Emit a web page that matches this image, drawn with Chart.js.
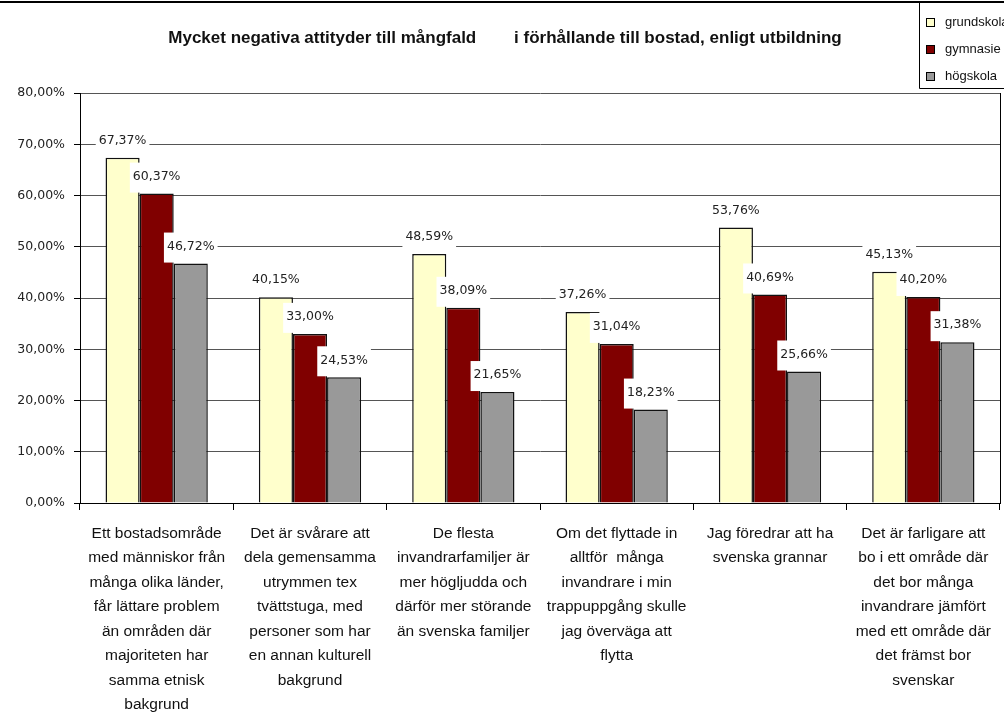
<!DOCTYPE html>
<html>
<head>
<meta charset="utf-8">
<script src="https://cdn.jsdelivr.net/npm/chart.js@4/dist/chart.umd.min.js"></script>
<style>
html,body{margin:0;padding:0;background:#fff;}
#wrap{width:1004px;height:727px;position:relative;}
</style>
</head>
<body>
<div id="wrap"><canvas id="c" width="1004" height="727"></canvas></div>
<script>
const chartTitle = "Mycket negativa attityder till mångfald        i förhållande till bostad, enligt utbildning";
const categories = [
  ["Ett bostadsområde","med människor från","många olika länder,","får lättare problem","än områden där","majoriteten har","samma etnisk","bakgrund"],
  ["Det är svårare att","dela gemensamma","utrymmen tex","tvättstuga, med","personer som har","en annan kulturell","bakgrund"],
  ["De flesta","invandrarfamiljer är","mer högljudda och","därför mer störande","än svenska familjer"],
  ["Om det flyttade in","alltför  många","invandrare i min","trappuppgång skulle","jag överväga att","flytta"],
  ["Jag föredrar att ha","svenska grannar"],
  ["Det är farligare att","bo i ett område där","det bor många","invandrare jämfört","med ett område där","det främst bor","svenskar"]
];
const seriesNames = ["grundskola","gymnasie","högskola"];
const grundskola = [67.37, 40.15, 48.59, 37.26, 53.76, 45.13];
const gymnasie   = [60.37, 33.00, 38.09, 31.04, 40.69, 40.20];
const hogskola   = [46.72, 24.53, 21.65, 18.23, 25.66, 31.38];
const yTicks = [0,10,20,30,40,50,60,70,80];
const colors = ["#FFFFCC","#800000","#999999"];

function fmt(v){ return v.toFixed(2).replace('.', ',') + '%'; }

const decor = {
  id: 'decor',
  beforeDraw(chart){
    const ctx = chart.ctx;
    ctx.save();
    ctx.fillStyle = '#fff';
    ctx.fillRect(0,0,chart.width,chart.height);
    ctx.restore();
  },
  afterDatasetsDraw(chart){
    const ctx = chart.ctx;
    ctx.save();
    ctx.font = '12.5px "DejaVu Sans"';
    ctx.textAlign = 'center';
    ctx.textBaseline = 'middle';
    chart.data.datasets.forEach((ds, di) => {
      const meta = chart.getDatasetMeta(di);
      meta.data.forEach((bar, i) => {
        const txt = fmt(ds.data[i]);
        const w = ctx.measureText(txt).width;
        const ty = bar.y - 17;
        ctx.fillStyle = '#fff';
        ctx.fillRect(bar.x - w/2 - 3, ty - 14, w + 6, (bar.y - 1) - (ty - 14));
        ctx.fillStyle = '#222';
        ctx.fillText(txt, bar.x, ty);
      });
    });
    ctx.restore();
  },
  afterDraw(chart){
    const ctx = chart.ctx;
    const a = chart.chartArea;
    ctx.save();
    ctx.strokeStyle = '#000';
    ctx.lineWidth = 1;
    ctx.beginPath();
    ctx.moveTo(Math.round(a.right)+0.5, a.top);
    ctx.lineTo(Math.round(a.right)+0.5, a.bottom);
    ctx.stroke();
    ctx.lineWidth = 2;
    ctx.beginPath();
    ctx.moveTo(0, 2);
    ctx.lineTo(chart.width, 2);
    ctx.stroke();
    ctx.fillStyle = '#111';
    ctx.font = 'bold 17px "Liberation Sans", Arial, sans-serif';
    ctx.textAlign = 'center';
    ctx.textBaseline = 'middle';
    ctx.fillText(chartTitle, 505, 38);
    ctx.lineWidth = 1;
    ctx.beginPath();
    ctx.moveTo(919.5, 2);
    ctx.lineTo(919.5, 88.5);
    ctx.lineTo(chart.width, 88.5);
    ctx.stroke();
    ctx.font = '13px "Liberation Sans", Arial, sans-serif';
    ctx.textAlign = 'left';
    const ys = [22.5, 49.5, 76.5];
    chart.data.datasets.forEach((ds, i) => {
      ctx.fillStyle = ds.backgroundColor;
      ctx.fillRect(926, ys[i]-4.5, 9, 9);
      ctx.strokeStyle = '#000';
      ctx.strokeRect(926.5, ys[i]-4, 8, 8);
      ctx.fillStyle = '#111';
      ctx.fillText(ds.label, 945, ys[i]);
    });
    ctx.restore();
  }
};

new Chart(document.getElementById('c'), {
  type: 'bar',
  data: {
    labels: categories,
    datasets: [
      {label: seriesNames[0], data: grundskola, backgroundColor: colors[0]},
      {label: seriesNames[1], data: gymnasie, backgroundColor: colors[1]},
      {label: seriesNames[2], data: hogskola, backgroundColor: colors[2]}
    ].map(d => Object.assign(d, {borderColor:'#111', borderWidth:1.5, categoryPercentage:0.667, barPercentage:1}))
  },
  options: {
    responsive: false,
    animation: false,
    devicePixelRatio: 1,
    layout: {padding: {top: 93, right: 4, left: 0, bottom: 0}},
    plugins: {legend: {display: false}, title: {display: false}, tooltip: {enabled: false}},
    scales: {
      x: {
        afterFit(s){ s.height = 224; },
        grid: {offset: true, drawOnChartArea: false, drawTicks: true, tickLength: 7, color: '#000'},
        border: {color: '#000', width: 1},
        ticks: {
          autoSkip: false, maxRotation: 0, minRotation: 0, padding: 11,
          color: '#111',
          font: {family: '"Liberation Sans", Arial, sans-serif', size: 15.5, lineHeight: '24.5px'}
        }
      },
      y: {
        min: 0, max: 80,
        afterFit(s){ s.width = 80; },
        afterBuildTicks(s){ s.ticks = yTicks.map(v => ({value: v})); },
        grid: {color: '#555', tickLength: 6, tickColor: '#000'},
        border: {color: '#000', width: 1},
        ticks: {
          padding: 9, color: '#222',
          font: {family: '"DejaVu Sans"', size: 12.5},
          callback: v => fmt(v)
        }
      }
    }
  },
  plugins: [decor]
});
</script>
</body>
</html>
